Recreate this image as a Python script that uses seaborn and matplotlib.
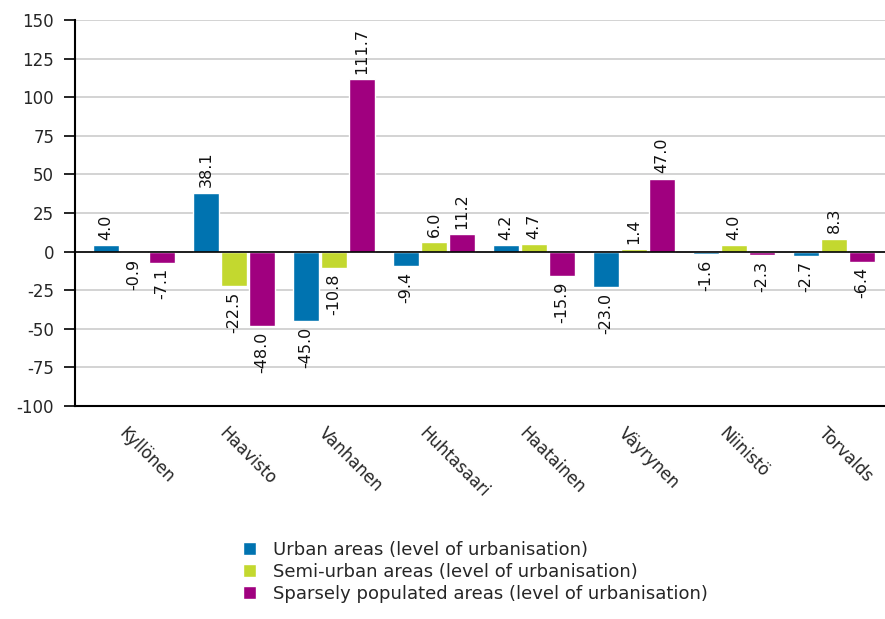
import matplotlib
matplotlib.use("Agg")
import matplotlib.pyplot as plt
import matplotlib.transforms as mtransforms
import seaborn as sns
import pandas as pd

candidates = ["Kyllönen", "Haavisto", "Vanhanen", "Huhtasaari", "Haatainen", "Väyrynen", "Niinistö", "Torvalds"]
series = ["Urban areas (level of urbanisation)",
          "Semi-urban areas (level of urbanisation)",
          "Sparsely populated areas (level of urbanisation)"]
urban = [4.0, 38.1, -45.0, -9.4, 4.2, -23.0, -1.6, -2.7]
semi_urban = [-0.9, -22.5, -10.8, 6.0, 4.7, 1.4, 4.0, 8.3]
sparse = [-7.1, -48.0, 111.7, 11.2, -15.9, 47.0, -2.3, -6.4]
colors = ["#0073B0", "#C3D82F", "#A0007F"]
yticks = [150, 125, 100, 75, 50, 25, 0, -25, -50, -75, -100]

rows = []
for s, vals in zip(series, [urban, semi_urban, sparse]):
    for c, v in zip(candidates, vals):
        rows.append({"candidate": c, "series": s, "value": v})
df = pd.DataFrame(rows)

sns.set_style("white")
plt.rcParams['font.family'] = ['DejaVu Sans']
fig = plt.figure(figsize=(8.85, 6.19), dpi=100)
ax = fig.add_axes([0.0847, 0.344, 0.9153, 0.6237])

sns.barplot(data=df, x="candidate", y="value", hue="series", order=candidates,
            hue_order=series, palette=colors, width=0.84, gap=0.05,
            saturation=1, ax=ax, legend=True, zorder=3, errorbar=None)

for cont in ax.containers:
    for bar in cont:
        h = bar.get_height()
        x = bar.get_x() + bar.get_width() / 2
        if h >= 0:
            ax.annotate(f"{h:.1f}", (x, h), xytext=(0, 4), textcoords="offset points",
                        rotation=90, ha="center", va="bottom", fontsize=11.5, color="#111111")
        else:
            ax.annotate(f"{h:.1f}", (x, h), xytext=(0, -4), textcoords="offset points",
                        rotation=90, ha="center", va="top", fontsize=11.5, color="#111111")

ax.set_ylim(-100, 150)
ax.set_xlim(-0.59, 7.51)
ax.set_yticks(yticks)
ax.set_yticklabels([str(t) for t in yticks], fontsize=12)
ax.yaxis.grid(True, color="#cccccc", linewidth=1.2, zorder=0)
ax.set_axisbelow(True)
ax.axhline(0, color="black", linewidth=1.2, zorder=4)
ax.set_xlabel("")
ax.set_ylabel("")
for sp in ["top", "right"]:
    ax.spines[sp].set_visible(False)
ax.spines["left"].set_color("black")
ax.spines["bottom"].set_color("black")
ax.spines["left"].set_linewidth(1.5)
ax.spines["bottom"].set_linewidth(1.5)
ax.tick_params(axis="y", length=8, width=1.2, color="black", direction="out", left=True, pad=7)
ax.tick_params(axis="x", length=0, pad=13)
ax.set_xticks(range(len(candidates)))
ax.set_xticklabels(candidates, rotation=-45, ha="left", rotation_mode="anchor", fontsize=12)
offset = mtransforms.ScaledTranslation(-6 / 100, 0, fig.dpi_scale_trans)
for lbl in ax.get_xticklabels():
    lbl.set_transform(lbl.get_transform() + offset)

handles, labels = ax.get_legend_handles_labels()
ax.legend_.remove()
leg = fig.legend(handles, labels, loc="upper left", bbox_to_anchor=(0.266, 0.138),
                 frameon=False, fontsize=13, handlelength=0.72, handleheight=0.72,
                 handletextpad=0.95, labelspacing=0.22, borderaxespad=0)

fig.savefig("out.png", dpi=100)
